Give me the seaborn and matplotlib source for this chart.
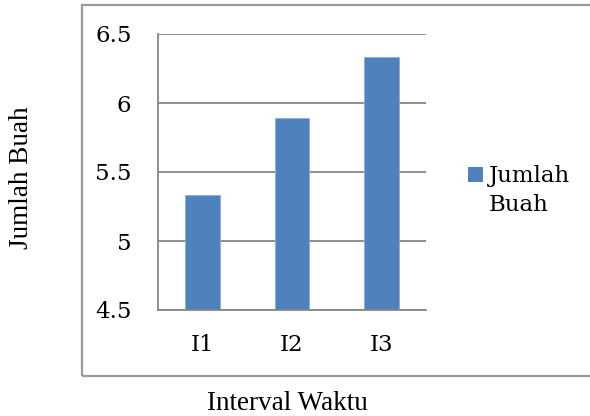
import matplotlib
matplotlib.use("Agg")
import matplotlib.pyplot as plt
from matplotlib.patches import Rectangle
import seaborn as sns
import pandas as pd

# Data
categories = ["I1", "I2", "I3"]
jumlah_buah = [5.33, 5.89, 6.33]
y_ticks = [4.5, 5.0, 5.5, 6.0, 6.5]
y_tick_labels = ["4.5", "5", "5.5", "6", "6.5"]
series_name = "Jumlah Buah"

df = pd.DataFrame({"Interval": categories, "Jumlah": jumlah_buah})

sns.set_theme(style="white")
plt.rcParams["font.family"] = ["DejaVu Serif"]
title_font = ["Liberation Serif", "DejaVu Serif"]

W, H = 590, 416
fig = plt.figure(figsize=(W / 100, H / 100), dpi=100)
fig.patch.set_facecolor("white")

def fx(px):
    return px / W

def fy(py):
    return 1 - py / H

# Plot area
left, right, top, bottom = 158, 426, 34, 310
ax = fig.add_axes([fx(left), fy(bottom), (right - left) / W, (bottom - top) / H])

bar_color = "#4f81bd"
sns.barplot(data=df, x="Interval", y="Jumlah", color=bar_color, width=0.39,
            edgecolor="#8eaedb", linewidth=0.6, saturation=1, ax=ax)

grid_c = "#878787"
ax.set_ylim(4.5, 6.5)
ax.set_xlim(-0.5, 2.5)
ax.set_yticks(y_ticks)
ax.set_yticklabels(y_tick_labels)
ax.yaxis.grid(True, color=grid_c, linewidth=1.3)
ax.set_axisbelow(True)
for s in ["top", "right"]:
    ax.spines[s].set_visible(False)
for s in ["left", "bottom"]:
    ax.spines[s].set_color(grid_c)
    ax.spines[s].set_linewidth(1.3)

# Category labels without marks; boundary marks as minor ticks
ax.set_xticks([0, 1, 2])
ax.set_xticklabels(categories)
ax.set_xticks([-0.5, 0.5, 1.5, 2.5], minor=True)
ax.tick_params(axis="x", which="major", length=0, pad=17, labelsize=16.5, colors="black")
ax.tick_params(axis="x", which="minor", length=8, width=1.3, color=grid_c, direction="out")
ax.tick_params(axis="y", length=8, width=1.3, color=grid_c, direction="out",
               pad=11, labelsize=16.5, labelcolor="black")
ax.set_xlabel("")
ax.set_ylabel("")

# Chart frame
fig.patches.append(Rectangle((fx(82), fy(376)), fx(520), (376 - 5) / H,
                             transform=fig.transFigure, fill=False,
                             edgecolor="#9a9a9a", linewidth=1.6))

# Legend
fig.patches.append(Rectangle((fx(468), fy(182)), fx(15), 15 / H,
                             transform=fig.transFigure, facecolor=bar_color,
                             edgecolor="none"))
fig.text(fx(489), fy(165), "Jumlah\nBuah", ha="left", va="top",
         fontsize=16.5, linespacing=1.42, color="black")

# Axis titles
fig.text(fx(22), fy(178), series_name, rotation=90, ha="center", va="center",
         fontsize=19.5, color="black", family=title_font)
fig.text(fx(287), fy(403), "Interval Waktu", ha="center", va="center",
         fontsize=19.5, color="black", family=title_font)

fig.savefig("out.png", dpi=100, facecolor="white")
